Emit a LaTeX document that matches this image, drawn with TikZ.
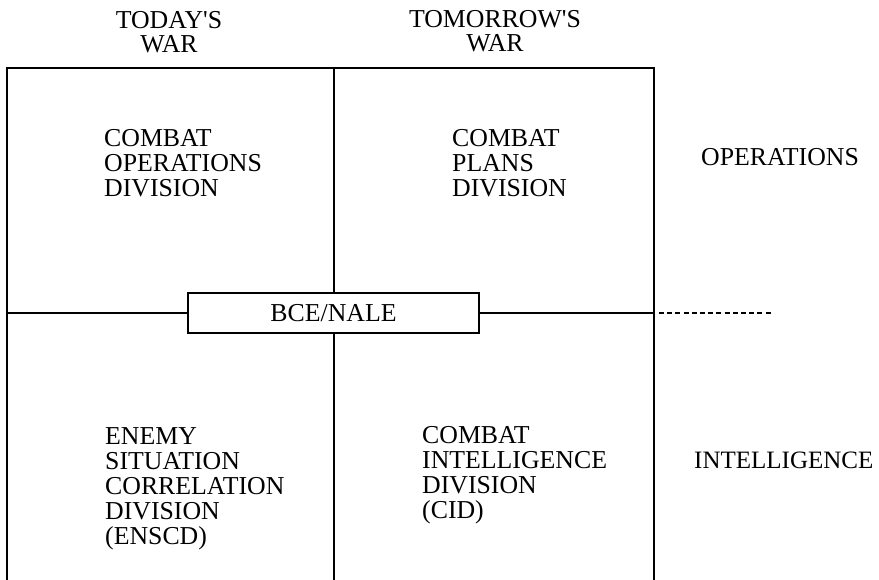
\documentclass[tikz,border=0pt]{standalone}
\usepackage{fontspec}
\setmainfont{Liberation Serif}
\newcommand{\stackl}[1]{\begin{tabular}[t]{@{}l@{}}#1\end{tabular}}
\newcommand{\stackc}[1]{\begin{tabular}[t]{@{}c@{}}#1\end{tabular}}
\newcommand{\apos}{\textquotesingle}
\begin{document}
\begin{tikzpicture}[x=1pt,y=-1pt,
  txt/.style={inner sep=0pt, anchor=base west, font=\fontsize{25.8}{25}\selectfont},
  hdr/.style={inner sep=0pt, anchor=base, font=\fontsize{25.8}{21}\selectfont},
  grid/.style={line width=2pt},
  link/.style={line width=1.8pt, dash pattern=on 5pt off 3.2pt}]
\useasboundingbox (0,0) rectangle (879,580);
% frame coordinates
\coordinate (tl) at (7,68);
\coordinate (tm) at (334,68);
\coordinate (tr) at (654,68);
\coordinate (bl) at (7,580);
\coordinate (bm) at (334,580);
\coordinate (br) at (654,580);
\coordinate (ml) at (7,313);
\coordinate (mr) at (654,313);
\coordinate (dstart) at (659,313);
\coordinate (dend) at (773,313);
% central box
\node[draw, grid, minimum width=291pt, minimum height=40pt, inner sep=0pt,
      font=\fontsize{25.8}{25}\selectfont] (bce) at (333.5,313) {BCE/NALE};
% grid lines
\draw[grid] (bl) -- (tl) -- (tr) -- (br);
\draw[grid] (tm) -- (tm |- bce.north);
\draw[grid] (tm |- bce.south) -- (bm);
\draw[grid] (ml) -- (bce.west);
\draw[grid] (bce.east) -- (mr);
\draw[link] (dstart) -- (dend);
% headers
\node[hdr] (today) at (169,29) {\stackc{TODAY\apos S\\WAR}};
\node[hdr] (tomorrow) at (495,28) {\stackc{TOMORROW\apos S\\WAR}};
% cells
\node[txt] (cod) at (104,147) {\stackl{COMBAT\\OPERATIONS\\DIVISION}};
\node[txt] (cpd) at (452,147) {\stackl{COMBAT\\PLANS\\DIVISION}};
\node[txt] (escd) at (105,444) {\stackl{ENEMY\\SITUATION\\CORRELATION\\DIVISION\\(ENSCD)}};
\node[txt] (cid) at (422,443) {\stackl{COMBAT\\INTELLIGENCE\\DIVISION\\(CID)}};
% side labels
\node[txt] (ops) at (701,166) {OPERATIONS};
\node[txt, font=\fontsize{25}{25}\selectfont] (intel) at (694,468) {INTELLIGENCE};
\end{tikzpicture}
\end{document}
